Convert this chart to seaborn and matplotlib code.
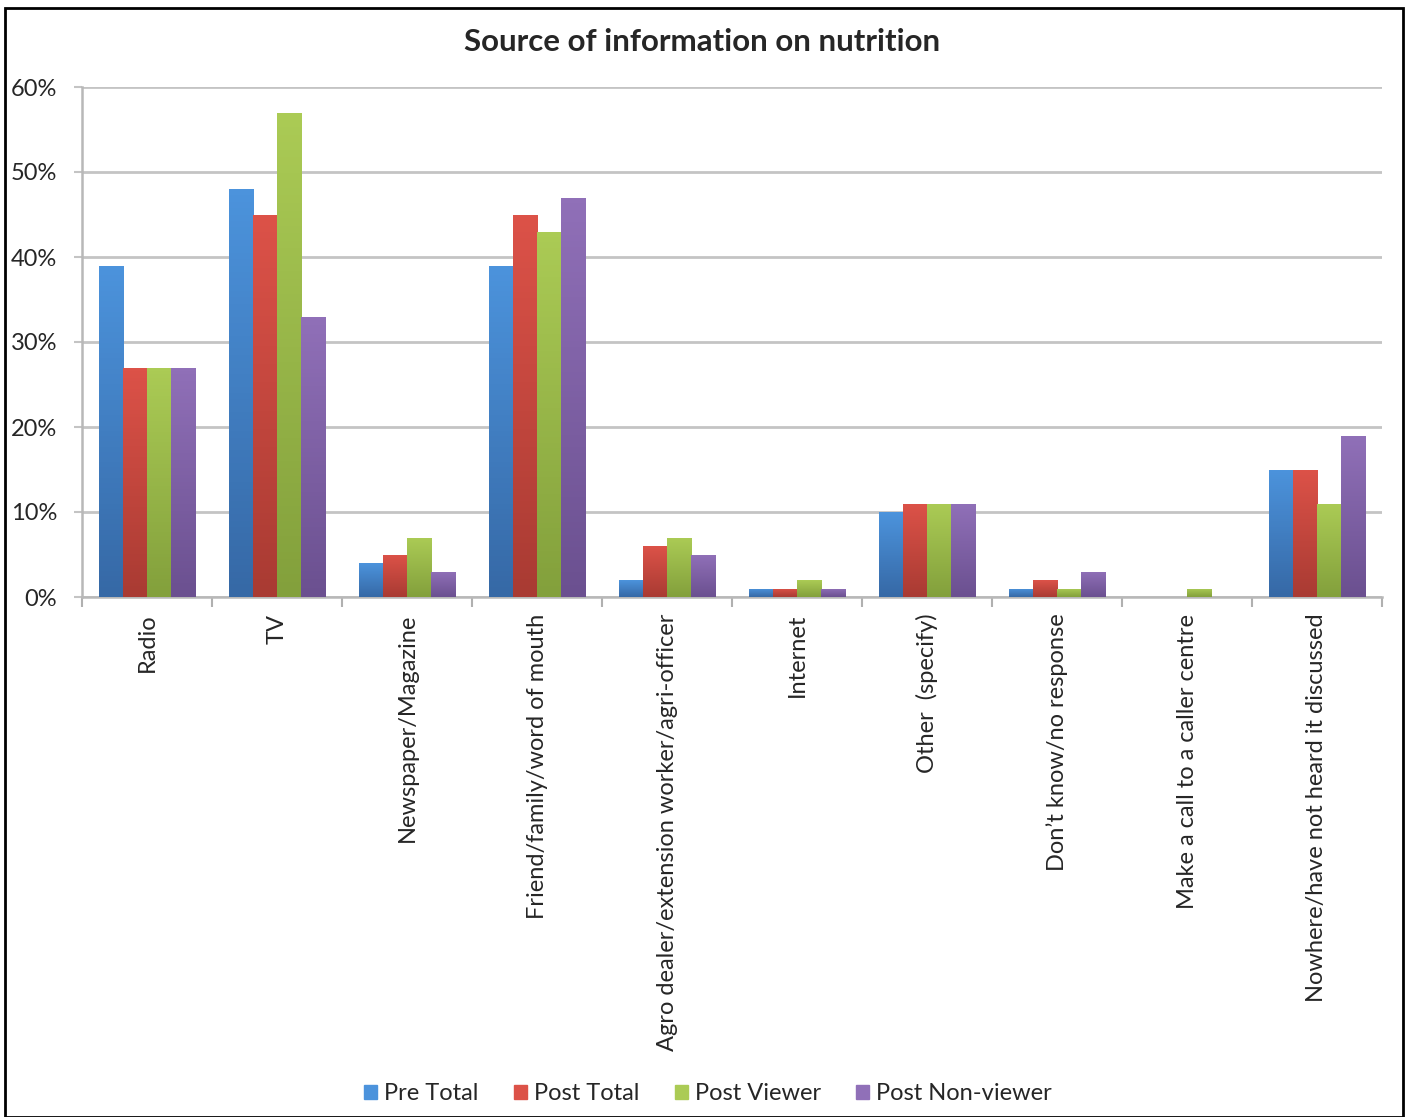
import numpy as np
import pandas as pd
import matplotlib.pyplot as plt
import matplotlib.patches as mpatches
from matplotlib.colors import LinearSegmentedColormap
import seaborn as sns

categories = ['Radio', 'TV', 'Newspaper/Magazine', 'Friend/family/word of mouth',
              'Agro dealer/extension worker/agri-officer', 'Internet', 'Other  (specify)',
              'Don\u2019t know/no response', 'Make a call to a caller centre',
              'Nowhere/have not heard it discussed']
series = ['Pre Total', 'Post Total', 'Post Viewer', 'Post Non-viewer']
pre_total = [39, 48, 4, 39, 2, 1, 10, 1, 0, 15]
post_total = [27, 45, 5, 45, 6, 1, 11, 2, 0, 15]
post_viewer = [27, 57, 7, 43, 7, 2, 11, 1, 1, 11]
post_nonviewer = [27, 33, 3, 47, 5, 1, 11, 3, 0, 19]
y_ticks = [0, 10, 20, 30, 40, 50, 60]

# top / bottom colours of the excel-style gradient
grad = {
    'Pre Total': ('#4c93dc', '#3669a6'),
    'Post Total': ('#dc5248', '#a93b33'),
    'Post Viewer': ('#abcb55', '#83a03c'),
    'Post Non-viewer': ('#9070b8', '#6b5090'),
}
flat = {k: v[0] for k, v in grad.items()}

rows = []
for name, vals in zip(series, [pre_total, post_total, post_viewer, post_nonviewer]):
    for c, v in zip(categories, vals):
        rows.append({'cat': c, 'series': name, 'value': v})
df = pd.DataFrame(rows)

sns.set_theme(style='white')
plt.rcParams['font.family'] = ['Lato', 'DejaVu Sans']

fig = plt.figure(figsize=(14.11, 11.17), dpi=100)
ax = fig.add_axes([82 / 1411, 1 - 597 / 1117, 1300 / 1411, 510 / 1117])

sns.barplot(data=df, x='cat', y='value', hue='series', order=categories,
            hue_order=series, palette=flat, width=0.74, gap=0, ax=ax,
            edgecolor='none', linewidth=0, legend=False, zorder=3)

# vertical gradient in every bar
for bar_group, name in zip(ax.containers, series):
    top, bot = grad[name]
    cmap = LinearSegmentedColormap.from_list(name, [bot, top])
    for p in bar_group.patches:
        h = p.get_height()
        if h <= 0:
            continue
        x0 = p.get_x()
        w = p.get_width()
        img = ax.imshow(np.linspace(0, 1, 64).reshape(-1, 1), cmap=cmap, origin='lower',
                        extent=[x0, x0 + w, 0, h], aspect='auto', zorder=3)
        img.set_clip_path(p)
        p.set_facecolor('none')

ax.set_xlim(-0.5, len(categories) - 0.5)
ax.set_ylim(0, 60)
ax.set_yticks(y_ticks)
ax.set_yticklabels([f'{t}%' for t in y_ticks], fontsize=17)
ax.yaxis.grid(True, color='#c4c4c4', linewidth=2, zorder=0)
ax.set_axisbelow(True)
ax.set_xlabel('')
ax.set_ylabel('')

ax.set_xticks(range(len(categories)))
ax.set_xticklabels(categories, rotation=90, fontsize=17, va='top', ha='center')
ax.set_xticks(np.arange(-0.5, len(categories), 1), minor=True)
ax.tick_params(axis='x', which='major', length=0, pad=12)
ax.tick_params(axis='x', which='minor', length=7, width=1.5, color='#b0b0b0', direction='out', bottom=True)
ax.tick_params(axis='y', length=6, width=1.5, color='#c4c4c4', direction='out', left=True, pad=12)

for s in ['top', 'right']:
    ax.spines[s].set_visible(False)
for s in ['left', 'bottom']:
    ax.spines[s].set_color('#b8b8b8')
    ax.spines[s].set_linewidth(1.8)

fig.text(702 / 1411, 1 - 42 / 1117, 'Source of information on nutrition', ha='center',
         va='center', fontsize=22.5, fontweight='bold')

handles = [mpatches.Patch(color=flat[s], label=s) for s in series]
fig.legend(handles=handles, loc='center', bbox_to_anchor=(708 / 1411, 1 - 1094 / 1117),
           ncol=4, frameon=False, fontsize=17, handlelength=0.55, handleheight=0.55,
           handletextpad=0.3, columnspacing=1.5)

fig.patches.append(mpatches.Rectangle((5 / 1411, 0.0), 1398 / 1411, 1109 / 1117,
                                      transform=fig.transFigure, fill=False,
                                      edgecolor='black', linewidth=2))

fig.savefig('out.png', dpi=100)
